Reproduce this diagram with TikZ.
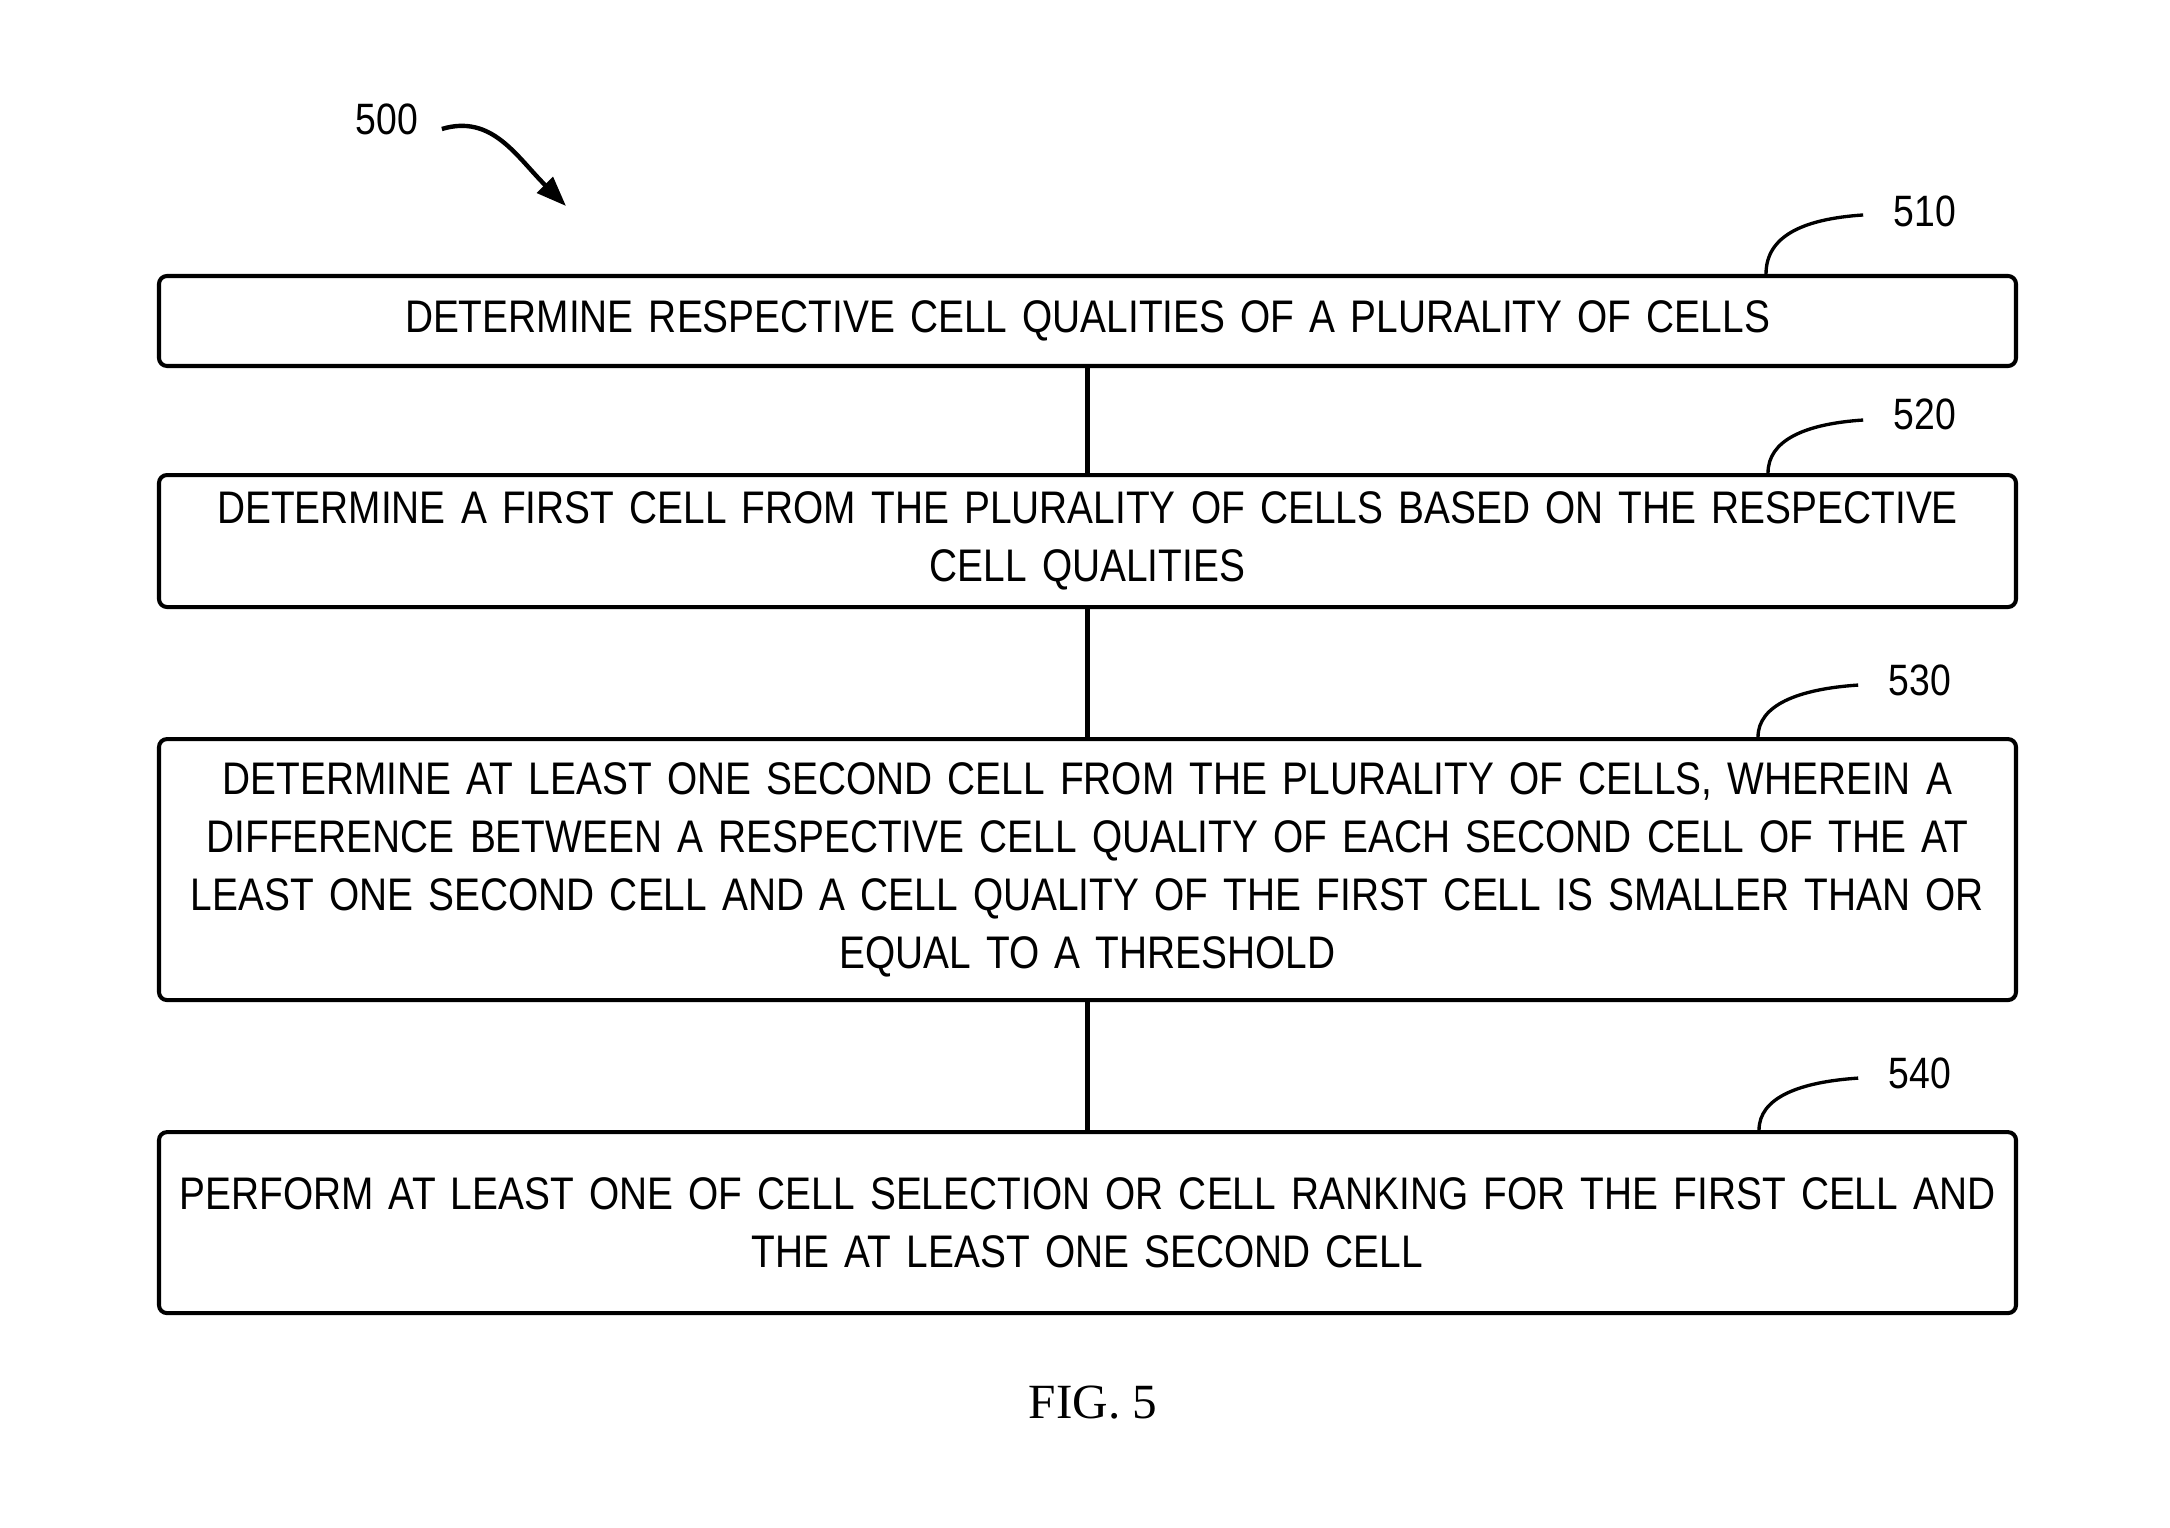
\documentclass[tikz,border=0pt]{standalone}
\usepackage{fontspec}
\setmainfont{Liberation Sans}[FakeStretch=0.85,WordSpace=0.72]
\newfontfamily\figfont{Liberation Serif}
\usepackage{tikz}
\usetikzlibrary{arrows.meta,positioning,calc}

\begin{document}
\begin{tikzpicture}[
  stepbox/.style={draw, line width=1.15pt, rounded corners=0.08cm,
                  align=center, text width=18.4cm, inner xsep=0.085cm,
                  font=\fontsize{13}{16.5}\selectfont},
  reflbl/.style={font=\fontsize{12.5}{14}\selectfont, inner xsep=0.3cm, inner ysep=0pt},
  lead/.style={line width=0.95pt},
  conn/.style={line width=1.15pt},
  arr/.style={-{Triangle[length=0.3cm,width=0.22cm]}, line width=1.25pt},
  node distance=1.05cm
]
\useasboundingbox (0,0) rectangle (21.70,-15.28);

%% Steps
\node[stepbox, minimum height=0.90cm] (s510) at (10.875,-3.21)
  {DETERMINE RESPECTIVE CELL QUALITIES OF A PLURALITY OF CELLS};
\node[stepbox, minimum height=1.32cm, below=1.05cm of s510] (s520)
  {DETERMINE A FIRST CELL FROM THE PLURALITY OF CELLS BASED ON THE RESPECTIVE\\
   CELL QUALITIES};
\node[stepbox, minimum height=2.61cm, below=1.28cm of s520] (s530)
  {DETERMINE AT LEAST ONE SECOND CELL FROM THE PLURALITY OF CELLS, WHEREIN A\\
   DIFFERENCE BETWEEN A RESPECTIVE CELL QUALITY OF EACH SECOND CELL OF THE AT\\
   LEAST ONE SECOND CELL AND A CELL QUALITY OF THE FIRST CELL IS SMALLER THAN OR\\
   EQUAL TO A THRESHOLD};
\node[stepbox, minimum height=1.81cm, below=1.28cm of s530] (s540)
  {PERFORM AT LEAST ONE OF CELL SELECTION OR CELL RANKING FOR THE FIRST CELL AND\\
   THE AT LEAST ONE SECOND CELL};

%% Connectors
\draw[conn] (s510) -- (s520);
\draw[conn] (s520) -- (s530);
\draw[conn] (s530) -- (s540);

%% Reference numerals
\node[reflbl] (l510) at ($(s510.north east)+(-0.93,0.63)$) {510};
\node[reflbl] (l520) at ($(s520.north east)+(-0.93,0.59)$) {520};
\node[reflbl] (l530) at ($(s530.north east)+(-0.98,0.57)$) {530};
\node[reflbl] (l540) at ($(s540.north east)+(-0.98,0.57)$) {540};

\draw[lead] ($(s510.north east)+(-2.52,0)$) .. controls +(0,0.38) and +(-0.6,-0.04) .. ($(l510.west)+(0,-0.04)$);
\draw[lead] ($(s520.north east)+(-2.50,0)$) .. controls +(0,0.32) and +(-0.6,-0.04) .. ($(l520.west)+(0,-0.06)$);
\draw[lead] ($(s530.north east)+(-2.60,0)$) .. controls +(0,0.32) and +(-0.6,-0.04) .. ($(l530.west)+(0,-0.05)$);
\draw[lead] ($(s540.north east)+(-2.59,0)$) .. controls +(0,0.32) and +(-0.6,-0.04) .. ($(l540.west)+(0,-0.05)$);

%% Figure numeral
\node[reflbl, inner xsep=0.15cm] (l500) at (3.87,-1.19) {500};
\coordinate (t500) at (5.66,-2.06);
\draw[arr] ($(l500.east)+(0.08,-0.1)$) .. controls +(0.5,0.15) and +(-0.5,0.5) .. (t500);

%% Caption
\node[font=\figfont\fontsize{14}{16}\selectfont] (fig) at (10.93,-14.03) {FIG. 5};

\end{tikzpicture}
\end{document}
